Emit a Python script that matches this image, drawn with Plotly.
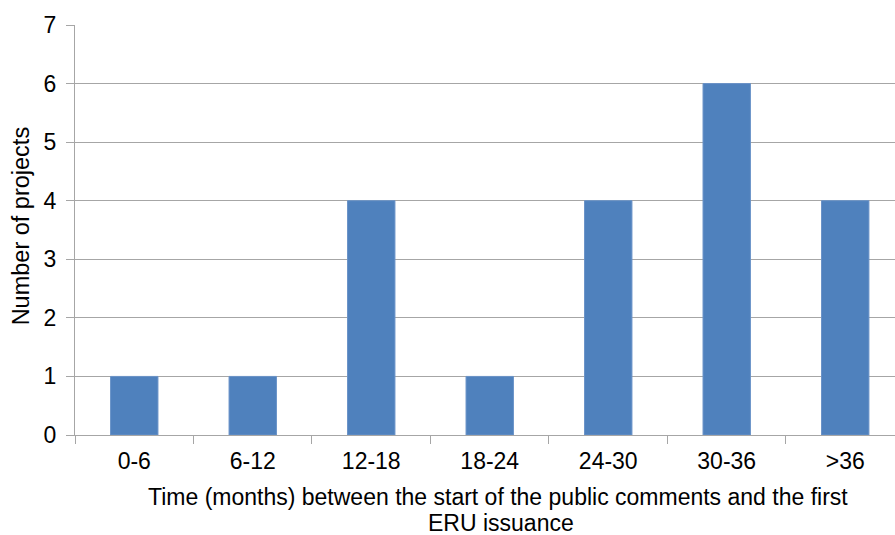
import plotly.graph_objects as go

categories = ["0-6", "6-12", "12-18", "18-24", "24-30", "30-36", ">36"]
projects = [1, 1, 4, 1, 4, 6, 4]
y_ticks = [0, 1, 2, 3, 4, 5, 6, 7]

FONT = "Liberation Sans, Arial, sans-serif"
GRID = "#A6A6A6"

fig = go.Figure(go.Bar(
    x=categories, y=projects,
    marker=dict(color="#4F81BD", line=dict(color="#6A93C8", width=1)),
))

fig.update_layout(
    width=895, height=535,
    margin=dict(l=75, r=0, t=25, b=100),
    paper_bgcolor="white", plot_bgcolor="white",
    bargap=0.6,
    showlegend=False,
    font=dict(family=FONT, size=23, color="#000000"),
    xaxis=dict(
        type="category",
        range=[-0.5, 6.42],
        showline=True, linecolor=GRID, linewidth=1,
        ticks="outside", ticklen=8, tickcolor=GRID, tickwidth=1,
        tickson="boundaries",
        showgrid=False,
        tickfont=dict(family=FONT, size=23),
        ticklabelstandoff=5,
    ),
    yaxis=dict(
        range=[0, 7],
        tickvals=y_ticks,
        showline=True, linecolor=GRID, linewidth=1,
        ticks="outside", ticklen=8, tickcolor=GRID, tickwidth=1,
        showgrid=True, gridcolor=GRID, gridwidth=1,
        zeroline=False,
        tickfont=dict(family=FONT, size=23),
        ticklabelstandoff=5,
    ),
    annotations=[
        dict(
            text="Time (months) between the start of the public comments and the first",
            xref="paper", yref="paper", x=0.516, y=-0.1512,
            xanchor="center", yanchor="middle", showarrow=False,
            font=dict(family=FONT, size=23),
        ),
        dict(
            text="ERU issuance",
            xref="paper", yref="paper", x=0.52, y=-0.2146,
            xanchor="center", yanchor="middle", showarrow=False,
            font=dict(family=FONT, size=23),
        ),
        dict(
            text="Number of projects",
            xref="paper", yref="paper", x=-0.0665, y=0.51,
            xanchor="center", yanchor="middle", textangle=-90, showarrow=False,
            font=dict(family=FONT, size=23.5),
        ),
    ],
)

fig.write_html("out.html")
